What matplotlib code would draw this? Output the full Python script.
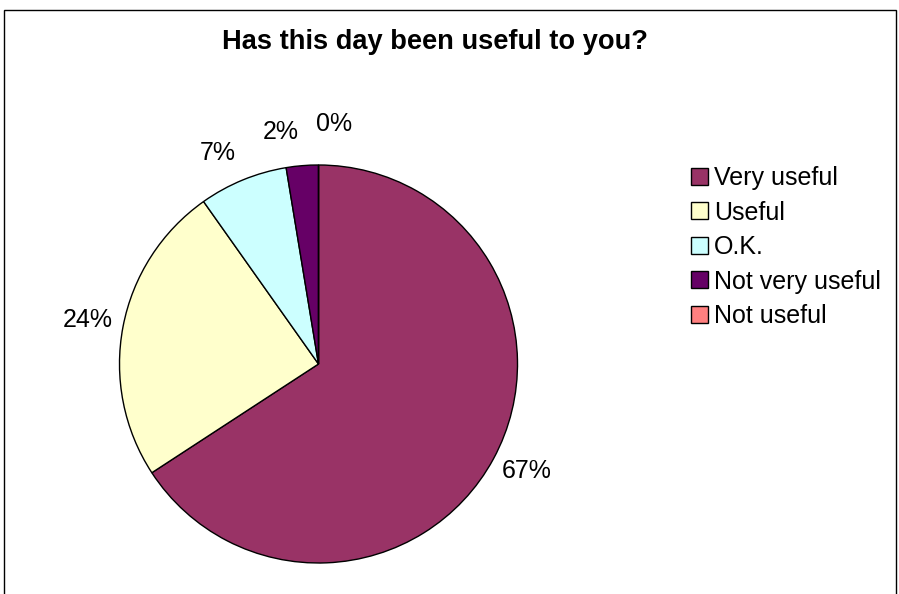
import numpy as np
import matplotlib.pyplot as plt
from matplotlib.patches import Rectangle

plt.rcParams['font.family'] = ['Liberation Sans', 'DejaVu Sans']

categories = ['Very useful', 'Useful', 'O.K.', 'Not very useful', 'Not useful']
shares = [65.8, 24.4, 7.2, 2.6, 0.0]
pct_labels = ['67%', '24%', '7%', '2%', '0%']
colors = ['#993366', '#FFFFCC', '#CCFFFF', '#660066', '#FF8080']

W, H = 899, 594
fig = plt.figure(figsize=(W / 100, H / 100), dpi=100)

# outer chart border
fig.patches.append(Rectangle((4 / W, -0.1), 892 / W, 1.1 - 10 / H, transform=fig.transFigure,
                             fill=False, edgecolor='black', linewidth=1.0))

# pie centred at (318.5, 364) px with radius 199 px
cx, cy, r = 318.5, 364, 199
ax = fig.add_axes([(cx - 1.25 * r) / W, (H - cy - 1.25 * r) / H, 2.5 * r / W, 2.5 * r / H])
wedges, _ = ax.pie(shares, colors=colors, startangle=90, counterclock=False,
                   wedgeprops=dict(edgecolor='black', linewidth=1.0))
ax.set_xlim(-1.25, 1.25)
ax.set_ylim(-1.25, 1.25)

# label placement: (distance from centre in radii, angle shift in degrees)
place = [(1.178, 1.2), (1.179, 0), (1.174, 3.2), (1.181, 4.5), (1.209, -3.7)]
for w, p, (d, shift) in zip(wedges, pct_labels, place):
    ang = np.deg2rad((w.theta1 + w.theta2) / 2 + shift)
    ax.text(d * np.cos(ang), d * np.sin(ang), p, ha='center', va='center', fontsize=18)

fig.text(434.5 / W, 1 - 42 / H, 'Has this day been useful to you?', ha='center', va='center',
         fontsize=19.6, fontweight='bold')

fig.legend(wedges, categories, loc='upper left', bbox_to_anchor=(681 / W, 1 - 156 / H),
           frameon=False, fontsize=18, handlelength=0.68, handleheight=0.68,
           handletextpad=0.24, labelspacing=0.42, borderaxespad=0)

plt.savefig('out.png', dpi=100)
